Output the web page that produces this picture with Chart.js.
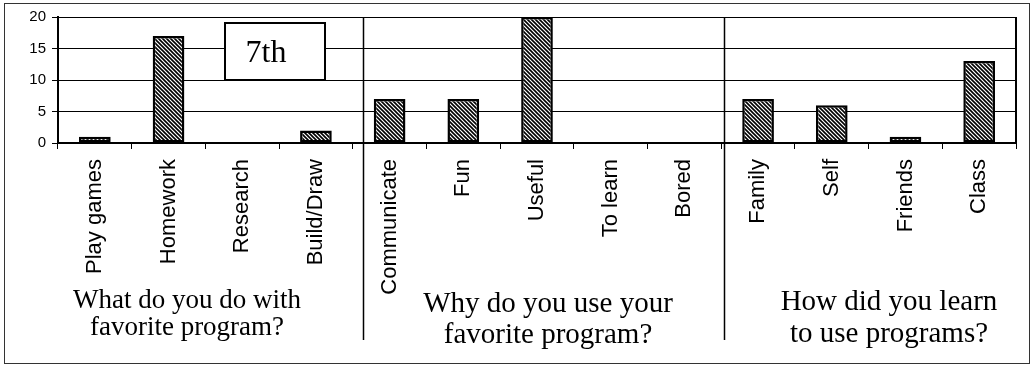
<!DOCTYPE html>
<html>
<head>
<meta charset="utf-8">
<script src="https://cdn.jsdelivr.net/npm/chart.js@4.4.1/dist/chart.umd.min.js"></script>
<style>
  html, body { margin: 0; padding: 0; background: #fff; }
  #chart { display: block; }
</style>
</head>
<body>
<canvas id="chart" width="1032" height="368"></canvas>
<script>
// answers per category
const categories = ['Play games', 'Homework', 'Research', 'Build/Draw',
    'Communicate', 'Fun', 'Useful', 'To learn', 'Bored',
    'Family', 'Self', 'Friends', 'Class']
const counts = [1, 17, 0, 2, 7, 7, 20, 0, 0, 7, 6, 1, 13]
const yMax = 20
const yStep = 5
const groupTitles = [
    ['What do you do with', 'favorite program?'],
    ['Why do you use your', 'favorite program?'],
    ['How did you learn', 'to use programs?']
]
const panelLabel = '7th'

Chart.defaults.font.family = '"Liberation Sans", Arial, sans-serif'
Chart.defaults.color = '#000'

function hatch() {
    const n = 4
    const c = document.createElement('canvas')
    c.width = n
    c.height = n
    const g = c.getContext('2d')
    g.fillStyle = '#fff'
    g.fillRect(0, 0, n, n)
    g.strokeStyle = '#000'
    g.lineWidth = 1.6
    g.beginPath()
    g.moveTo(-1, -1); g.lineTo(n + 1, n + 1)
    g.moveTo(-1, n - 1); g.lineTo(1, n + 1)
    g.moveTo(n - 1, -1); g.lineTo(n + 1, 1)
    g.stroke()
    return g.createPattern(c, 'repeat')
}

const decor = {
    id: 'decor',
    afterDraw(chart) {
        const ctx = chart.ctx
        const area = chart.chartArea
        const x = chart.scales.x
        ctx.save()

        // outer frame
        ctx.strokeStyle = '#333'
        ctx.lineWidth = 1
        ctx.strokeRect(4.5, 3.5, 1025, 360)

        // right edge of plot
        ctx.strokeStyle = '#000'
        ctx.lineWidth = 2
        ctx.beginPath()
        ctx.moveTo(area.right, area.top)
        ctx.lineTo(area.right, area.bottom)
        ctx.stroke()

        // group separators
        ctx.lineWidth = 1.5
        ;[3.64, 8.54].forEach(v => {
            const px = Math.round(x.getPixelForValue(v)) + 0.5
            ctx.beginPath()
            ctx.moveTo(px, area.top)
            ctx.lineTo(px, 340)
            ctx.stroke()
        })

        // panel label box
        ctx.fillStyle = '#fff'
        ctx.fillRect(225, 23, 100, 57)
        ctx.lineWidth = 2
        ctx.strokeRect(225, 23, 100, 57)
        ctx.fillStyle = '#000'
        ctx.font = '32px "Liberation Serif", "Times New Roman", serif'
        ctx.textAlign = 'center'
        ctx.textBaseline = 'alphabetic'
        ctx.fillText(panelLabel, 266, 62)

        // group titles
        const titleSpots = [
            { cx: 187, base: 308, gap: 27, size: 27 },
            { cx: 548, base: 312, gap: 31, size: 29 },
            { cx: 889, base: 310, gap: 32, size: 29 }
        ]
        groupTitles.forEach((lines, i) => {
            const t = titleSpots[i]
            ctx.font = t.size + 'px "Liberation Serif", "Times New Roman", serif'
            lines.forEach((s, j) => ctx.fillText(s, t.cx, t.base + j * t.gap))
        })
        ctx.restore()
    }
}

new Chart(document.getElementById('chart'), {
    type: 'bar',
    data: {
        labels: categories,
        datasets: [{
            data: counts,
            backgroundColor: hatch(),
            borderColor: '#000',
            borderWidth: 2.5,
            borderSkipped: false,
            barPercentage: 0.43,
            categoryPercentage: 1
        }]
    },
    options: {
        responsive: false,
        animation: false,
        layout: { padding: { left: 0, top: 17, right: 16, bottom: 0 } },
        plugins: {
            legend: { display: false },
            tooltip: { enabled: false }
        },
        scales: {
            x: {
                grid: {
                    offset: true,
                    drawOnChartArea: false,
                    color: '#000',
                    lineWidth: 1,
                    tickLength: 6
                },
                border: { color: '#000', width: 2 },
                ticks: {
                    autoSkip: false,
                    minRotation: 90,
                    maxRotation: 90,
                    padding: 10,
                    font: { size: 22 }
                },
                afterFit(scale) { scale.height = 225 }
            },
            y: {
                min: 0,
                max: yMax,
                grid: { color: '#000', lineWidth: 1, tickLength: 6 },
                border: { color: '#000', width: 2 },
                ticks: {
                    stepSize: yStep,
                    padding: 6,
                    font: { size: 15 }
                },
                afterFit(scale) { scale.width = 58 }
            }
        }
    },
    plugins: [decor]
})
</script>
</body>
</html>
